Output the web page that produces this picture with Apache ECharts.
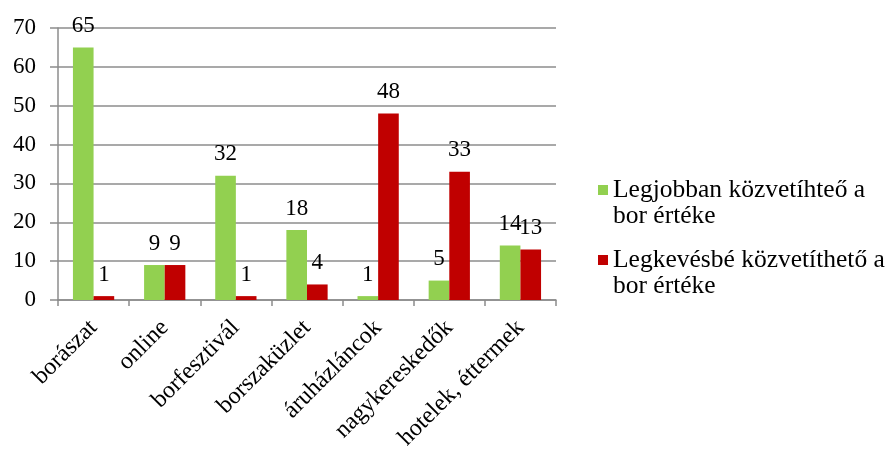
<!DOCTYPE html>
<html>
<head>
<meta charset="utf-8">
<script src="https://cdn.jsdelivr.net/npm/echarts@6/dist/echarts.min.js"></script>
<style>
  html, body { margin: 0; padding: 0; background: #fff; }
  #chart { width: 889px; height: 456px; }
</style>
</head>
<body>
<div id="chart"></div>
<script>
// Értékesítési csatornák
const categories = ['borászat', 'online', 'borfesztivál', 'borszaküzlet', 'áruházláncok', 'nagykereskedők', 'hotelek, éttermek'];
const seriesNames = ['Legjobban közvetíhteő a\nbor értéke', 'Legkevésbé közvetíthető a\nbor értéke'];
const bestValues = [65, 9, 32, 18, 1, 5, 14];
const leastValues = [1, 9, 1, 4, 48, 33, 13];
const yTicks = { min: 0, max: 70, interval: 10 };

const serif = "'Liberation Serif', 'Times New Roman', serif";
const axisGray = '#8c8c8c';
const colors = ['#92D050', '#C00000'];

const chart = echarts.init(document.getElementById('chart'), null, { renderer: 'canvas' });

const labelStyle = {
  show: true,
  position: 'top',
  distance: 10,
  color: '#000',
  fontFamily: serif,
  fontSize: 23
};

// One legend block per series; a leading blank line keeps the marker
// level with the first line of the two-line name.
function legendBlock(name, top) {
  return {
    orient: 'vertical',
    left: 598,
    top: top,
    padding: 0,
    itemWidth: 10,
    itemHeight: 10,
    icon: 'rect',
    formatter: n => '\n' + n,
    textStyle: {
      fontFamily: serif,
      fontSize: 25.5,
      color: '#000',
      lineHeight: 26
    },
    data: [name]
  };
}

chart.setOption({
  animation: false,
  color: colors,
  textStyle: { fontFamily: serif },
  grid: { left: 58, right: 333, top: 28, bottom: 156, containLabel: false },
  legend: [
    legendBlock(seriesNames[0], 151),
    legendBlock(seriesNames[1], 221)
  ],
  xAxis: {
    type: 'category',
    data: categories,
    axisLine: { lineStyle: { color: axisGray, width: 1.5 } },
    axisTick: { show: true, length: 6, lineStyle: { color: axisGray, width: 1.5 } },
    axisLabel: {
      rotate: 45,
      interval: 0,
      margin: 24,
      color: '#000',
      fontFamily: serif,
      fontSize: 24
    }
  },
  yAxis: {
    type: 'value',
    min: yTicks.min,
    max: yTicks.max,
    interval: yTicks.interval,
    axisLine: { show: true, lineStyle: { color: axisGray, width: 1.5 } },
    axisTick: { show: true, length: 8, lineStyle: { color: axisGray, width: 1.5 } },
    splitLine: { lineStyle: { color: axisGray, width: 1.5 } },
    axisLabel: {
      margin: 22,
      color: '#000',
      fontFamily: serif,
      fontSize: 23
    }
  },
  series: [
    {
      name: seriesNames[0],
      type: 'bar',
      data: bestValues,
      barGap: '0%',
      barCategoryGap: '42%',
      itemStyle: { color: colors[0] },
      label: labelStyle
    },
    {
      name: seriesNames[1],
      type: 'bar',
      data: leastValues,
      barGap: '0%',
      barCategoryGap: '42%',
      itemStyle: { color: colors[1] },
      label: labelStyle
    }
  ]
});
</script>
</body>
</html>
